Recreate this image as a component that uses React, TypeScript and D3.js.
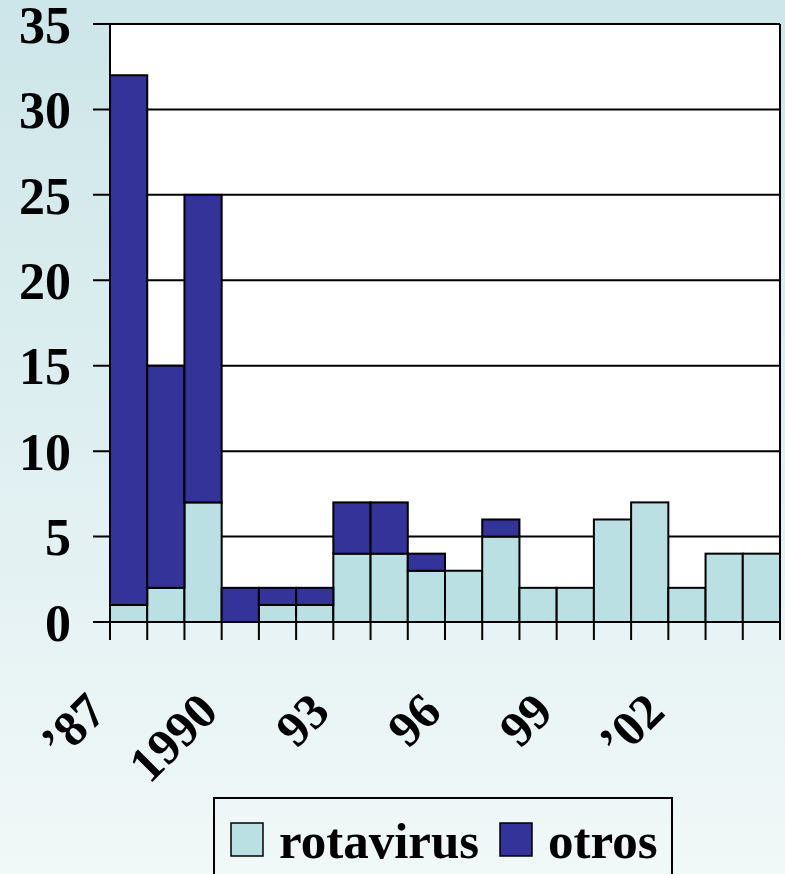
import React, { useRef, useEffect } from "react";
import * as d3 from "d3";

// data
const years = [1987, 1988, 1989, 1990, 1991, 1992, 1993, 1994, 1995, 1996, 1997, 1998, 1999, 2000, 2001, 2002, 2003, 2004];
const rotavirus = [1, 2, 7, 0, 1, 1, 4, 4, 3, 3, 5, 2, 2, 6, 7, 2, 4, 4];
const otros = [31, 13, 18, 2, 1, 1, 3, 3, 1, 0, 1, 0, 0, 0, 0, 0, 0, 0];
const yTicks = [0, 5, 10, 15, 20, 25, 30, 35];
const labelYears = [1987, 1990, 1993, 1996, 1999, 2002];
const labelTexts = ["\u201987", "1990", "93", "96", "99", "\u201902"];
const seriesNames = ["rotavirus", "otros"];
const seriesColors = ["#bbe0e3", "#333399"];

export default function App() {
  const svgRef = useRef<SVGSVGElement>(null);

  useEffect(() => {
    const W = 785;
    const H = 874;
    const margin = { top: 24, right: 5, bottom: 252, left: 110 };
    const font = "'Liberation Serif', 'Times New Roman', serif";

    const svg = d3.select(svgRef.current);
    svg.selectAll("*").remove();

    // background gradient
    const defs = svg.append("defs");
    const grad = defs
      .append("linearGradient")
      .attr("id", "bg")
      .attr("x1", 0)
      .attr("y1", 0)
      .attr("x2", 0)
      .attr("y2", 1);
    grad.append("stop").attr("offset", "0%").attr("stop-color", "#cde6e9");
    grad.append("stop").attr("offset", "100%").attr("stop-color", "#f1f8f8");
    svg.append("rect").attr("width", W).attr("height", H).attr("fill", "url(#bg)");

    const x = d3
      .scaleBand<number>()
      .domain(years)
      .range([margin.left, W - margin.right])
      .padding(0);
    const y = d3
      .scaleLinear()
      .domain([0, 35])
      .range([H - margin.bottom, margin.top]);

    // plot area
    svg
      .append("rect")
      .attr("x", margin.left)
      .attr("y", y(35))
      .attr("width", W - margin.right - margin.left)
      .attr("height", y(0) - y(35))
      .attr("fill", "#fff");

    // gridlines
    svg
      .append("g")
      .selectAll("line")
      .data(yTicks)
      .join("line")
      .attr("x1", margin.left - 17)
      .attr("x2", W - margin.right)
      .attr("y1", (d) => y(d))
      .attr("y2", (d) => y(d))
      .attr("stroke", "#000")
      .attr("stroke-width", 2);

    // stacked bars
    const table = years.map((yr, i) => ({ year: yr, rotavirus: rotavirus[i], otros: otros[i] }));
    const stacked = d3.stack<any>().keys(seriesNames)(table);

    svg
      .append("g")
      .selectAll("g")
      .data(stacked)
      .join("g")
      .attr("fill", (d, i) => seriesColors[i])
      .selectAll("rect")
      .data((d) => d.filter((v) => v[1] - v[0] > 0))
      .join("rect")
      .attr("x", (d) => x(d.data.year)!)
      .attr("width", x.bandwidth())
      .attr("y", (d) => y(d[1]))
      .attr("height", (d) => y(d[0]) - y(d[1]))
      .attr("stroke", "#000")
      .attr("stroke-width", 2);

    // axes lines
    svg
      .append("line")
      .attr("x1", margin.left)
      .attr("x2", margin.left)
      .attr("y1", y(35))
      .attr("y2", y(0) + 18)
      .attr("stroke", "#000")
      .attr("stroke-width", 2);
    svg
      .append("line")
      .attr("x1", W - margin.right)
      .attr("x2", W - margin.right)
      .attr("y1", y(35))
      .attr("y2", y(0) + 18)
      .attr("stroke", "#000")
      .attr("stroke-width", 2);

    // bottom tick marks at band edges
    const edges = years.map((yr) => x(yr)!).concat([W - margin.right]);
    svg
      .append("g")
      .selectAll("line")
      .data(edges)
      .join("line")
      .attr("x1", (d) => d)
      .attr("x2", (d) => d)
      .attr("y1", y(0))
      .attr("y2", y(0) + 18)
      .attr("stroke", "#000")
      .attr("stroke-width", 2);

    // y labels
    svg
      .append("g")
      .attr("font-family", font)
      .attr("font-weight", "bold")
      .attr("font-size", 52)
      .attr("text-anchor", "end")
      .selectAll("text")
      .data(yTicks)
      .join("text")
      .attr("x", 71)
      .attr("y", (d) => y(d))
      .attr("dy", "0.36em")
      .text((d) => d);

    // x labels, rotated
    svg
      .append("g")
      .attr("font-family", font)
      .attr("font-weight", "bold")
      .attr("font-size", 50)
      .attr("text-anchor", "end")
      .selectAll("text")
      .data(labelYears)
      .join("text")
      .attr("transform", (d) => {
        const cx = x(d)! + x.bandwidth() / 2 - 20;
        return `translate(${cx},${y(0) + 92}) rotate(-45)`;
      })
      .text((d, i) => labelTexts[i]);

    // legend
    const lg = svg.append("g").attr("font-family", font).attr("font-weight", "bold").attr("font-size", 51);
    lg.append("rect")
      .attr("x", 214)
      .attr("y", 798)
      .attr("width", 458)
      .attr("height", 120)
      .attr("fill", "none")
      .attr("stroke", "#000")
      .attr("stroke-width", 2);
    const legendX = [231, 500];
    seriesNames.forEach((name, i) => {
      lg.append("rect")
        .attr("x", legendX[i])
        .attr("y", 823)
        .attr("width", 32)
        .attr("height", 33)
        .attr("fill", seriesColors[i])
        .attr("stroke", "#000")
        .attr("stroke-width", 1.5);
      lg.append("text")
        .attr("x", legendX[i] + 48)
        .attr("y", 858)
        .text(name);
    });
  }, []);

  return (
    <div style={{ position: "absolute", left: 0, top: 0 }}>
      <svg ref={svgRef} width={785} height={874} style={{ display: "block" }} />
    </div>
  );
}
